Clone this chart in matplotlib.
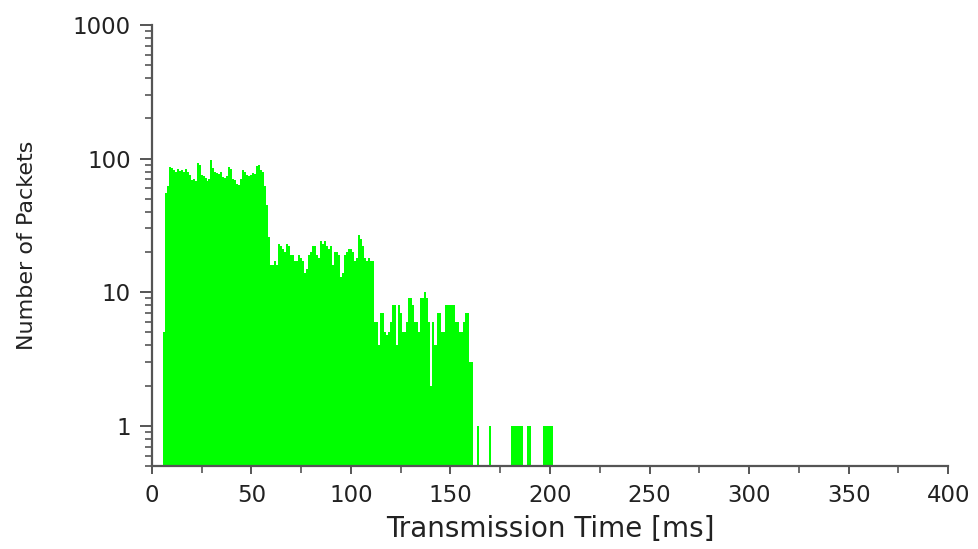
"""Histogram of packet transmission times (log-scale counts)."""
import matplotlib

matplotlib.use("Agg")
import matplotlib.pyplot as plt
from matplotlib.ticker import FixedLocator, LogLocator, NullFormatter, MultipleLocator
import numpy as np

# 1 ms bins, bin centre in ms -> number of packets
block1_start = 6
block1_counts = [
    5, 55, 62, 87, 85, 82, 80, 83, 81, 82, 79, 83, 80, 76, 69, 70, 68, 93, 90,
    76, 74, 72, 68, 70, 98, 85, 80, 78, 77, 79, 73, 71, 74, 87, 84, 70, 69, 65,
    64, 70, 82, 80, 75, 74, 76, 78, 77, 88, 90, 82, 80, 62, 45, 26,
]
block2_counts = [
    16, 16, 17, 16, 23, 22, 21, 20, 23, 22, 19, 19, 17, 17, 19, 18, 17, 14, 15,
    19, 20, 22, 22, 19, 18, 24, 23, 24, 22, 21, 22, 16, 20, 20, 19, 13, 14, 19,
    20, 21, 21, 20, 17, 18, 27, 25, 22, 18, 17, 18, 17, 17,
]
block3_counts = [
    6, 6, 4, 7, 7, 5, 4.8, 5, 6, 8, 8, 4, 8, 7, 5, 5, 6, 9, 9, 8, 6, 6, 5, 9,
    9, 10, 9, 6, 2, 6, 4, 4, 7, 7, 5, 5, 8, 8, 8, 8, 8, 6, 6, 5, 5, 6, 7, 7, 3, 3,
]
tail_times = [164, 170, 181, 182, 183, 184, 185, 186, 189, 190, 197, 198, 199, 200, 201]
tail_counts = [1] * len(tail_times)

counts = block1_counts + block2_counts + block3_counts
times = list(range(block1_start, block1_start + len(counts)))
times += tail_times
counts += tail_counts

plt.rcParams["font.family"] = ["DejaVu Sans"]

fig = plt.figure(figsize=(9.79, 5.49), dpi=100)
ax = fig.add_axes([0.155, 0.151, 0.8136, 0.8035])

ax.set_yscale("log")
ax.bar(times, counts, width=1.0, align="center",
       color="#00ff00", edgecolor="none", linewidth=0)

ax.set_xlim(0, 400)
ax.set_ylim(0.5, 1000)

ax.xaxis.set_major_locator(MultipleLocator(50))
ax.xaxis.set_minor_locator(MultipleLocator(25))
ax.yaxis.set_major_locator(FixedLocator([1, 10, 100, 1000]))
ax.yaxis.set_major_formatter(matplotlib.ticker.FuncFormatter(lambda v, p: f"{v:g}"))
ax.yaxis.set_minor_locator(LogLocator(base=10, subs=np.arange(2, 10)))
ax.yaxis.set_minor_formatter(NullFormatter())

spine_col = "#555555"
ax.spines[["top", "right"]].set_visible(False)
for s in ("left", "bottom"):
    ax.spines[s].set_color(spine_col)
    ax.spines[s].set_linewidth(1.6)

ax.tick_params(axis="both", which="major", direction="out", length=9, width=1.4,
               color=spine_col, labelsize=16.5, labelcolor="#222222")
ax.tick_params(axis="both", which="minor", direction="out", length=5, width=1.2,
               color=spine_col)
ax.tick_params(axis="y", which="major", pad=6)
ax.tick_params(axis="x", which="major", length=6, pad=7)
ax.tick_params(axis="x", which="minor", length=5)

ax.set_xlabel("Transmission Time [ms]", fontsize=20, color="#222222", labelpad=6)
ax.set_ylabel("Number of Packets", fontsize=16, color="#222222", labelpad=26)

fig.savefig("out.png", dpi=100)
